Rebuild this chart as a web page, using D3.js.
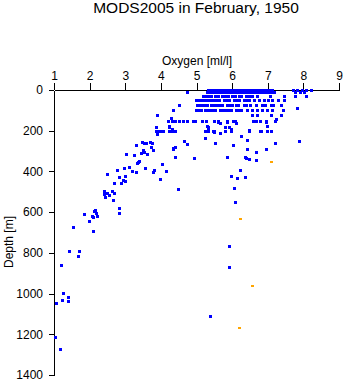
<!DOCTYPE html>
<html>
<head>
<meta charset="utf-8">
<script src="https://cdn.jsdelivr.net/npm/d3@7"></script>
<style>
  html, body { margin: 0; padding: 0; background: #fff; }
  svg { display: block; }
  text { font-family: "Liberation Sans", Arial, sans-serif; fill: #000; }
</style>
</head>
<body>
<svg id="chart" width="345" height="384"></svg>
<script>
// ---------- DATA ----------
const titleText = "MODS2005 in February, 1950";
const xLabel = "Oxygen [ml/l]";
const yLabel = "Depth [m]";
const xTicks = [1, 2, 3, 4, 5, 6, 7, 8, 9];
const yTicks = [0, 200, 400, 600, 800, 1000, 1200, 1400];

// standard-level rows (depth in m) and oxygen readings (ml/l) on each
const rowDepths = [0, 10, 30, 50, 75, 100, 125, 150, 200];
const rowOxygen = [
  [5.32,5.40,5.48,5.55,5.62,5.70,5.78,5.85,5.92,6.00,6.07,6.14,6.22,6.30,6.37,6.44,6.52,6.60,6.67,6.74,6.82,6.90,6.97,7.04,7.12,7.72,7.82,7.95,8.08,8.22],
  [4.74,5.30,5.37,5.45,5.52,5.60,5.67,5.75,5.82,5.90,5.97,6.05,6.12,6.20,6.27,6.35,6.42,6.50,6.57,6.65,6.72,6.80,6.87,6.95,7.02,7.10,7.18,7.76,7.90,8.02],
  [5.17,5.24,5.31,5.40,5.52,5.59,5.72,5.80,5.88,6.00,6.08,6.18,6.25,6.40,6.48,6.55,6.70,7.06,7.47,7.77,8.06],
  [4.99,5.07,5.13,5.20,5.27,5.35,5.42,5.49,5.56,5.63,5.77,5.84,5.91,6.05,6.12,6.19,6.33,6.40,6.47,6.61,6.75,6.89,7.01,7.11,7.30,7.46],
  [4.51,5.01,5.08,5.15,5.22,5.29,5.41,5.48,5.58,5.65,5.72,5.86,5.93,6.00,6.10,6.17,6.33,6.40,6.50,6.67,6.84,6.92,7.10,7.15,7.36],
  [4.33,4.99,5.06,5.13,5.24,5.31,5.38,5.45,5.52,5.66,5.73,5.83,5.90,5.97,6.11,6.18,6.25,6.42,6.56,6.70,6.84,6.98,7.12,7.43],
  [3.88,6.56,6.70,7.10,7.36],
  [4.20,4.31,4.40,4.51,4.62,4.73,4.90,4.95,5.15,5.16,5.27,5.49,5.60,5.86,6.02,6.09,6.59,6.67,6.78,6.96,7.20],
  [3.87,3.90,3.95,4.01,4.05,4.22,4.31,4.40,5.24,5.33,5.46,5.50,5.80,5.98,6.47,6.78,6.82,6.98,7.08]
];

// scattered casts: [oxygen, depth]
const scatterPoints = [
  [7.83,90],[4.28,139],[7.22,144],
  [5.61,159],[5.66,164],[5.87,159],[6.12,160],[6.96,155],
  [3.87,183],[4.22,180],[4.23,177],[5.29,177],[5.31,183],[5.80,183],[5.90,183],[6.97,178],
  [4.31,191],[5.33,196],[5.98,193],[6.47,196],
  [5.50,208],[5.67,213],[3.88,218],[6.26,226],[5.23,236],
  [3.70,254],[4.66,250],[5.53,258],[6.43,247],[7.88,252],[7.21,262],[3.76,262],[3.46,254],[3.52,262],[3.58,262],[3.31,268],[4.74,267],[6.02,272],
  [4.41,278],[4.34,285],[4.33,288],[3.71,281],[3.49,295],[3.79,296],[6.42,291],[6.96,291],[3.54,303],[6.66,304],[3.45,311],[3.62,316],[3.03,316],[3.25,321],
  [4.41,331],[4.94,332],[5.87,331],[6.37,331],[6.46,339],[6.38,336],[6.67,344],[3.35,355],[3.39,349],[3.34,358],
  [4.04,365],[3.10,380],[2.96,383],[3.56,385],[2.78,394],[3.82,393],[3.18,396],[6.22,394],[3.79,401],[4.15,399],[3.29,404],
  [2.48,414],[2.99,422],[5.98,422],[3.00,448],[2.83,426],[6.14,434],[6.35,429],[3.98,438],[2.93,442],[2.87,457],[2.69,458],
  [4.47,488],[6.06,483],[2.40,494],[2.62,497],[2.69,504],[2.48,507],[2.39,512],[2.54,517],[2.44,527],[2.67,542],[6.09,550],
  [2.83,581],[2.16,589],[2.12,594],[2.18,605],[2.82,605],[1.85,609],[2.06,619],[2.20,619],[2.10,625],[1.98,645],[1.53,673],[2.10,692],
  [5.91,768],[1.42,792],[1.70,792],[1.67,815],[1.19,860],[5.91,871],
  [1.24,998],[1.39,1018],[1.22,1032],[1.39,1038],[1.06,1045],[5.39,1112],[1.03,1215],[1.17,1273]
];

// second (orange) series: [oxygen, depth]
const orangePoints = [[7.10,352],[6.22,634],[6.57,961],[6.19,1171]];

// ---------- DRAW ----------
const svg = d3.select("#chart");
const x = d3.scaleLinear().domain([1, 9]).range([54, 339]);
const y = d3.scaleLinear().domain([0, 1400]).range([90, 375]);

const xAxis = svg.append("g")
  .attr("transform", "translate(0,90)")
  .call(d3.axisTop(x).tickValues(xTicks).tickFormat(d3.format("d"))
    .tickSize(7).tickSizeOuter(0).tickPadding(3));
const yAxis = svg.append("g")
  .attr("transform", "translate(54,0)")
  .call(d3.axisLeft(y).tickValues(yTicks).tickFormat(d3.format("d"))
    .tickSize(5).tickSizeOuter(0).tickPadding(6));

[xAxis, yAxis].forEach(g => {
  g.attr("shape-rendering", "crispEdges");
  g.selectAll("path, line").attr("stroke", "#000").attr("stroke-width", 1);
  g.selectAll("text").attr("font-family", "'Liberation Sans', Arial, sans-serif")
    .attr("font-size", 12).attr("fill", "#000");
});

const bluePts = [];
rowDepths.forEach((d, i) => rowOxygen[i].forEach(o => bluePts.push([o, d])));
scatterPoints.forEach(p => bluePts.push(p));

svg.append("g")
  .attr("shape-rendering", "crispEdges")
  .selectAll("rect.blue").data(bluePts).join("rect")
  .attr("class", "blue")
  .attr("x", d => Math.round(x(d[0])) - 1)
  .attr("y", d => Math.round(y(d[1])) - 1)
  .attr("width", 3).attr("height", 3)
  .attr("fill", "#0000ff");

svg.append("g")
  .attr("shape-rendering", "crispEdges")
  .selectAll("rect.orange").data(orangePoints).join("rect")
  .attr("class", "orange")
  .attr("x", d => Math.round(x(d[0])) - 1)
  .attr("y", d => Math.round(y(d[1])) - 1)
  .attr("width", 3).attr("height", 2)
  .attr("fill", "#ffa500");

svg.append("text")
  .attr("x", 196).attr("y", 13)
  .attr("text-anchor", "middle")
  .attr("font-size", 15.5)
  .text(titleText);

svg.append("text")
  .attr("x", 197).attr("y", 65)
  .attr("text-anchor", "middle")
  .attr("font-size", 12)
  .text(xLabel);

svg.append("text")
  .attr("transform", "translate(13,242) rotate(-90)")
  .attr("text-anchor", "middle")
  .attr("font-size", 12)
  .text(yLabel);
</script>
</body>
</html>
